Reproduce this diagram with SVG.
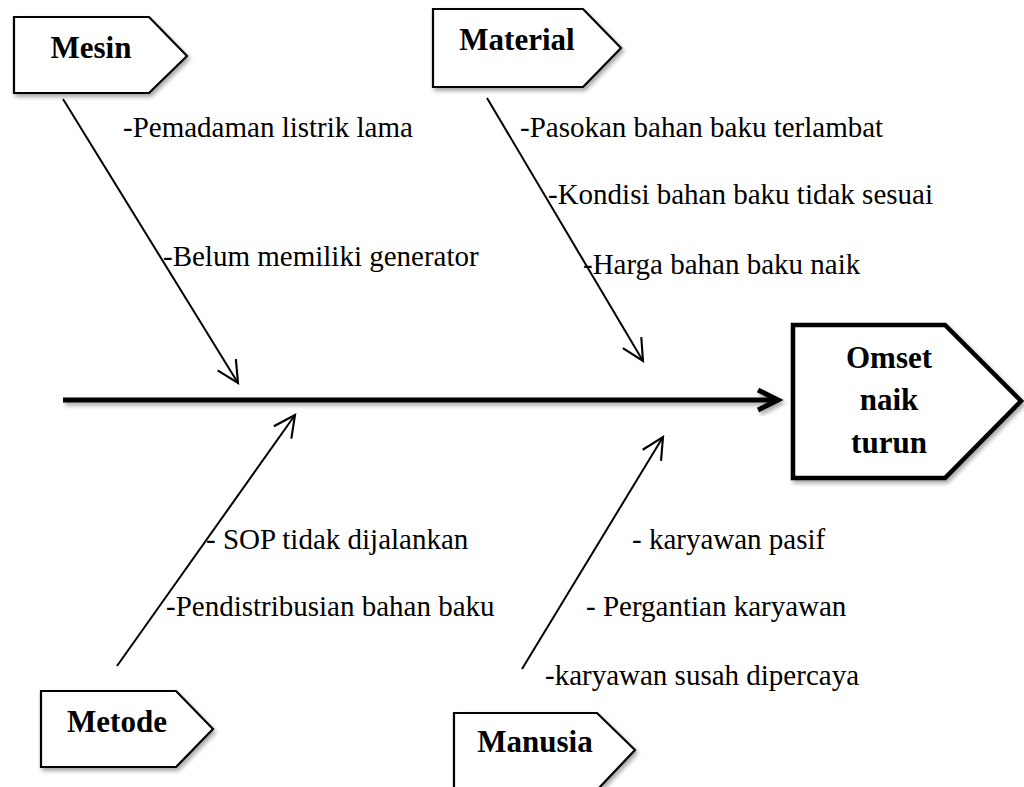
<svg xmlns="http://www.w3.org/2000/svg" width="1024" height="787" viewBox="0 0 1024 787">
  <style>
    .box { fill: #ffffff; stroke: #000000; stroke-width: 2.2; stroke-linejoin: miter; }
    .head { fill: #ffffff; stroke: #000000; stroke-width: 4.5; stroke-linejoin: miter; }
    .title { font-family: "Liberation Serif", "Times New Roman", serif; font-weight: bold; font-size: 31px; fill: #000000; text-anchor: middle; }
    .cause { font-family: "Liberation Serif", "Times New Roman", serif; font-weight: normal; font-size: 29px; fill: #000000; }
    .bone { stroke: #000000; stroke-width: 2; fill: none; marker-end: url(#tip); }
    .spine { stroke: #000000; stroke-width: 5; fill: none; }
  </style>
  <defs>
    <filter id="shadow" x="-10%" y="-20%" width="130%" height="150%">
      <feDropShadow dx="2" dy="3" stdDeviation="2" flood-color="#000000" flood-opacity="0.35"/>
    </filter>
    <marker id="tip" markerUnits="userSpaceOnUse" markerWidth="30" markerHeight="30" viewBox="-24 -14 28 28" refX="0" refY="0" orient="auto">
      <path d="M -20,-10 L 0,0 L -20,10" fill="none" stroke="#000000" stroke-width="2" stroke-linejoin="miter"/>
    </marker>
  </defs>

  <!-- connectors: main spine and the four cause bones -->
  <g id="connectors">
    <g filter="url(#shadow)">
      <line class="spine" x1="63" y1="400" x2="776" y2="400"/>
      <path d="M 758,390 L 778,400 L 758,410" fill="none" stroke="#000000" stroke-width="5" stroke-linejoin="miter"/>
    </g>
    <line class="bone" x1="63" y1="99" x2="238" y2="383"/>
    <line class="bone" x1="487" y1="98" x2="643" y2="361"/>
    <line class="bone" x1="117" y1="666" x2="295" y2="415"/>
    <line class="bone" x1="522" y1="669" x2="663" y2="437"/>
  </g>

  <!-- effect -->
  <g id="omset">
    <polygon class="head" filter="url(#shadow)" points="793,325 945,325 1021,401 945,478 793,478"/>
    <text class="title" x="889" y="368">Omset</text>
    <text class="title" x="889" y="410">naik</text>
    <text class="title" x="889" y="453">turun</text>
  </g>

  <!-- cause categories -->
  <g id="mesin">
    <polygon class="box" filter="url(#shadow)" points="14,17 149,17 187,56 149,93 14,93"/>
    <text class="title" x="91" y="58">Mesin</text>
  </g>
  <g id="material">
    <polygon class="box" filter="url(#shadow)" points="433,9 583,9 621,48 583,87 433,87"/>
    <text class="title" x="517" y="50">Material</text>
  </g>
  <g id="metode">
    <polygon class="box" filter="url(#shadow)" points="41,691 176,691 213,729 176,767 41,767"/>
    <text class="title" x="117" y="732">Metode</text>
  </g>
  <g id="manusia">
    <polygon class="box" filter="url(#shadow)" points="454,713 597,713 635,750 597,790 454,790"/>
    <text class="title" x="535" y="752">Manusia</text>
  </g>

  <!-- causes -->
  <g id="causes-mesin">
    <text class="cause" x="123" y="137">-Pemadaman listrik lama</text>
    <text class="cause" x="163" y="266">-Belum memiliki generator</text>
  </g>
  <g id="causes-material">
    <text class="cause" x="520" y="137">-Pasokan bahan baku terlambat</text>
    <text class="cause" x="548" y="204">-Kondisi bahan baku tidak sesuai</text>
    <text class="cause" x="583" y="274">-Harga bahan baku naik</text>
  </g>
  <g id="causes-metode">
    <text class="cause" x="206" y="549">- SOP tidak dijalankan</text>
    <text class="cause" x="166" y="616">-Pendistribusian bahan baku</text>
  </g>
  <g id="causes-manusia">
    <text class="cause" x="632" y="549">- karyawan pasif</text>
    <text class="cause" x="586" y="616">- Pergantian karyawan</text>
    <text class="cause" x="545" y="685">-karyawan susah dipercaya</text>
  </g>
</svg>
